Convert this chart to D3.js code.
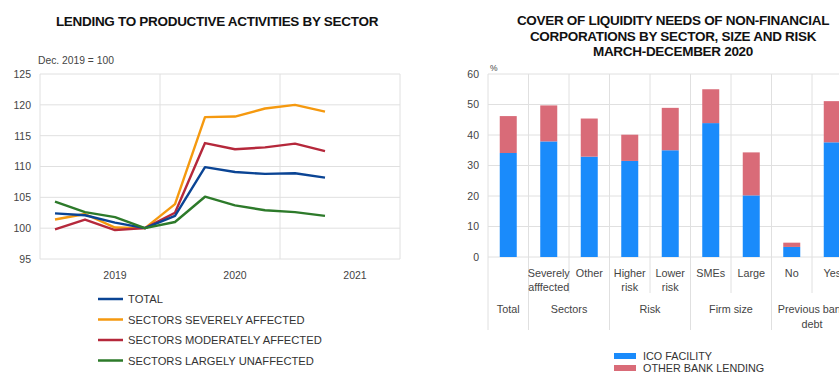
<!DOCTYPE html>
<html>
<head>
<meta charset="utf-8">
<script src="https://cdn.jsdelivr.net/npm/d3@7"></script>
<style>
  html, body { margin: 0; padding: 0; background: #fff; }
  svg { display: block; font-family: "Liberation Sans", Arial, Helvetica, sans-serif; }
</style>
</head>
<body>
<svg id="chart" width="839" height="372"></svg>
<script>
// ---- Lending to productive activities (Dec. 2019 = 100) ----
const quarters = ["2019Q1","2019Q2","2019Q3","2019Q4","2020Q1","2020Q2","2020Q3","2020Q4","2021Q1","2021Q2","2021Q3","2021Q4"];
const dataQuarters = ["2019Q1","2019Q2","2019Q3","2019Q4","2020Q1","2020Q2","2020Q3","2020Q4","2021Q1","2021Q2"];
const years = ["2019","2020","2021"];
const lendingTicks = [95,100,105,110,115,120,125];
const totalSeries      = [102.4,102.1,100.9,100.0,102.0,109.9,109.1,108.8,108.9,108.2];
const severelySeries   = [101.4,102.3,100.1,100.0,103.9,118.0,118.1,119.4,120.0,118.9];
const moderatelySeries = [ 99.8,101.4, 99.7,100.0,102.5,113.8,112.8,113.1,113.7,112.5];
const unaffectedSeries = [104.3,102.6,101.8,100.0,101.0,105.1,103.7,102.9,102.6,102.0];
const lineNames = ["TOTAL","SECTORS SEVERELY AFFECTED","SECTORS MODERATELY AFFECTED","SECTORS LARGELY UNAFFECTED"];
const lineColors = ["#0a4494","#f5990f","#b5283b","#2d7a2a"];

// ---- Cover of liquidity needs ----
const categories = ["Total","Severely affected","Other","Higher risk","Lower risk","SMEs","Large","No","Yes"];
// Tick labels under each bar ("" = the group label alone names it)
const categoryLabels = ["","Severely|afffected","Other","Higher|risk","Lower|risk","SMEs","Large","No","Yes"];
const icoFacility      = [34.1,37.9,32.9,31.5,35.0,43.9,20.2,3.3,37.6];
const otherBankLending = [12.1,11.8,12.5, 8.6,13.9,11.1,14.1,1.4,13.5];
const groups = ["Total","Sectors","Risk","Firm size","Previous bank|debt"];
const groupSizes = [1,2,2,2,2];
const coverTicks = [0,10,20,30,40,50,60];
const barNames = ["ICO FACILITY","OTHER BANK LENDING"];
const barColors = ["#1a8bfb","#d96b78"];

const svg = d3.select("#chart");
const gridColor = "#e0e0e0";
const textColor = "#444";
const titleSize = 13.5;

// =========== Left chart ===========
const L = {left: 40, right: 400, top: 74, bottom: 259};
const xq = d3.scaleBand().domain(quarters).range([L.left, L.right]);
const yl = d3.scaleLinear().domain([95,125]).range([L.bottom, L.top]);

svg.append("text").attr("x", 217).attr("y", 25.5).attr("text-anchor","middle")
  .attr("font-size", titleSize).attr("font-weight","bold").attr("fill","#111")
  .attr("letter-spacing", -0.3)
  .text("LENDING TO PRODUCTIVE ACTIVITIES BY SECTOR");
svg.append("text").attr("x", 38).attr("y", 64).attr("font-size", 10.3).attr("fill", textColor)
  .text("Dec. 2019 = 100");

const gl = svg.append("g");
gl.selectAll("line.h").data(lendingTicks).join("line")
  .attr("x1", L.left).attr("x2", L.right)
  .attr("y1", d => yl(d)).attr("y2", d => yl(d))
  .attr("stroke", gridColor).attr("stroke-width", 1);
const yearStarts = quarters.filter(q => q.endsWith("Q1")).map(q => xq(q)).concat([L.right]);
gl.selectAll("line.v").data(yearStarts).join("line")
  .attr("x1", d => d).attr("x2", d => d)
  .attr("y1", L.top).attr("y2", L.bottom)
  .attr("stroke", gridColor).attr("stroke-width", 1);

const yAxisL = d3.axisLeft(yl).tickValues(lendingTicks).tickSize(0).tickPadding(0);
svg.append("g").attr("transform", `translate(31,0)`).call(yAxisL)
  .call(g => g.select(".domain").remove())
  .call(g => g.selectAll("text").attr("font-size", 10.5).attr("fill", textColor)
    .attr("font-family", "Liberation Sans, Arial, sans-serif"));

svg.append("g").selectAll("text").data(years).join("text")
  .attr("x", d => xq(d + "Q3") + xq.bandwidth()/2)
  .attr("y", 279).attr("text-anchor","middle").attr("font-size", 10.5).attr("fill", textColor)
  .text(d => d);

const allSeries = [severelySeries, moderatelySeries, totalSeries, unaffectedSeries];
const seriesColor = [lineColors[1], lineColors[2], lineColors[0], lineColors[3]];
const line = d3.line()
  .x((d, i) => xq(dataQuarters[i]) + xq.bandwidth()/2)
  .y(d => yl(d));
svg.append("g").selectAll("path").data(allSeries).join("path")
  .attr("d", d => line(d))
  .attr("fill","none")
  .attr("stroke", (d,i) => seriesColor[i])
  .attr("stroke-width", 2.4)
  .attr("stroke-linejoin","round");

const legL = svg.append("g").selectAll("g").data(lineNames).join("g")
  .attr("transform", (d,i) => `translate(98,${299 + i*20.5})`);
legL.append("line").attr("x1", 0).attr("x2", 25).attr("y1", 0).attr("y2", 0)
  .attr("stroke", (d,i) => lineColors[i]).attr("stroke-width", 2.5);
legL.append("text").attr("x", 30).attr("y", 4).attr("font-size", 11.2).attr("fill", "#333")
  .text(d => d);

// =========== Right chart ===========
const R = {left: 488, top: 74, bottom: 257};
const bandW = 40.5;
const xc = d3.scaleBand().domain(categories).range([R.left, R.left + bandW*categories.length]);
const yc = d3.scaleLinear().domain([0,60]).range([R.bottom, R.top]);
const barW = 17;

const titleLines = ["COVER OF LIQUIDITY NEEDS OF NON-FINANCIAL","CORPORATIONS BY SECTOR, SIZE AND RISK","MARCH-DECEMBER 2020"];
svg.append("g").selectAll("text").data(titleLines).join("text")
  .attr("x", 673).attr("y", (d,i) => 25 + i*15.5).attr("text-anchor","middle")
  .attr("font-size", titleSize).attr("font-weight","bold").attr("fill","#111")
  .attr("letter-spacing", -0.3)
  .text(d => d);

svg.append("text").attr("x", 490).attr("y", 71).attr("font-size", 8.5).attr("fill", textColor).text("%");

const gr = svg.append("g");
gr.selectAll("line.h").data(coverTicks).join("line")
  .attr("x1", R.left).attr("x2", xc.range()[1])
  .attr("y1", d => yc(d)).attr("y2", d => yc(d))
  .attr("stroke", gridColor);

// Category separators: group boundaries run long, inner ones short
const groupBounds = new Set([0]);
let acc = 0;
groupSizes.forEach(s => { acc += s; groupBounds.add(acc); });
const sepIdx = d3.range(categories.length + 1);
gr.selectAll("line.v").data(sepIdx).join("line")
  .attr("x1", i => R.left + i*xc.bandwidth()).attr("x2", i => R.left + i*xc.bandwidth())
  .attr("y1", R.top)
  .attr("y2", i => groupBounds.has(i) ? 330 : 293)
  .attr("stroke", gridColor);

const yAxisR = d3.axisLeft(yc).tickValues(coverTicks).tickSize(0).tickPadding(0);
svg.append("g").attr("transform", `translate(479,0)`).call(yAxisR)
  .call(g => g.select(".domain").remove())
  .call(g => g.selectAll("text").attr("font-size", 10.5).attr("fill", textColor)
    .attr("font-family", "Liberation Sans, Arial, sans-serif"));

const stackData = categories.map((c,i) => ({cat: c, ico: icoFacility[i], other: otherBankLending[i]}));
const stacked = d3.stack().keys(["ico","other"])(stackData);
svg.append("g").selectAll("g").data(stacked).join("g")
  .attr("fill", (d,i) => barColors[i])
  .selectAll("rect").data(d => d).join("rect")
  .attr("x", d => xc(d.data.cat) + xc.bandwidth()/2 - barW/2)
  .attr("width", barW)
  .attr("y", d => yc(d[1]))
  .attr("height", d => yc(d[0]) - yc(d[1]));

// Category labels (two lines where split by "|")
const catG = svg.append("g").selectAll("text").data(categories).join("text")
  .attr("text-anchor","middle").attr("font-size", 10.8).attr("fill", textColor);
catG.selectAll("tspan")
  .data((d,ci) => categoryLabels[ci].split("|").filter(t => t).map(t => ({t, c: d})))
  .join("tspan")
  .attr("x", d => xc(d.c) + xc.bandwidth()/2)
  .attr("y", (d,i) => 277 + i*14)
  .text(d => d.t);

// Group labels
let start = 0;
const groupPos = groupSizes.map(s => { const p = start + s/2; start += s; return p; });
const grpG = svg.append("g").selectAll("text").data(groups).join("text")
  .attr("text-anchor","middle").attr("font-size", 10.8).attr("fill", textColor);
grpG.selectAll("tspan").data((d,gi) => d.split("|").map(t => ({t, gi}))).join("tspan")
  .attr("x", d => R.left + groupPos[d.gi]*xc.bandwidth())
  .attr("y", (d,i) => 313 + i*15)
  .text(d => d.t);

const legR = svg.append("g").selectAll("g").data(barNames).join("g")
  .attr("transform", (d,i) => `translate(614,${353 + i*12})`);
legR.append("rect").attr("width", 22).attr("height", 6).attr("fill", (d,i) => barColors[i]);
legR.append("text").attr("x", 29).attr("y", 7).attr("font-size", 10.8).attr("fill", "#333").text(d => d);
</script>
</body>
</html>
